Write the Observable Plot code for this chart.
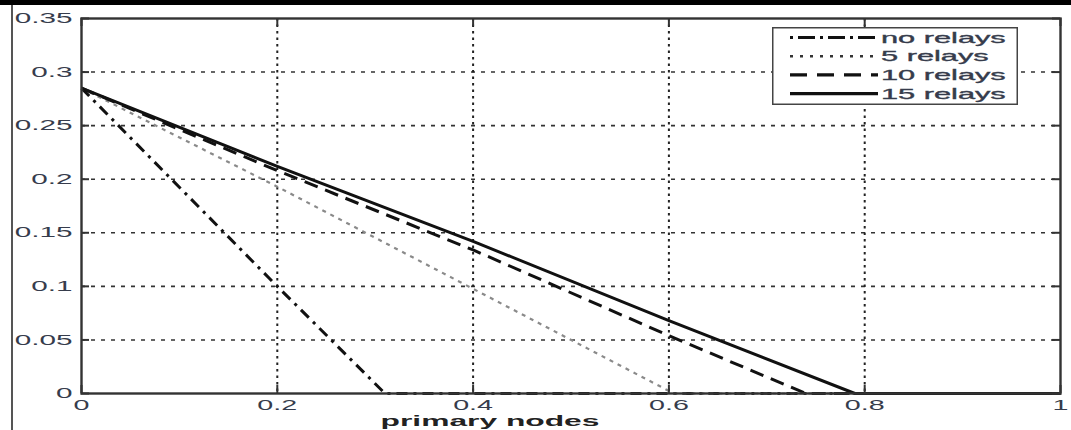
<!DOCTYPE html>
<html>
<head>
<meta charset="utf-8">
<script src="https://cdn.jsdelivr.net/npm/d3@7"></script>
<script src="https://cdn.jsdelivr.net/npm/@observablehq/plot@0.6"></script>
<style>
  html, body { margin: 0; padding: 0; background: #fff; overflow: hidden; }
  #wrap { position: relative; width: 1071px; height: 430px; font-family: "Liberation Sans", Arial, sans-serif; }
  #topbar { position: absolute; left: 0; top: 0; width: 1071px; height: 5px; background: #000; }
  #leftline { position: absolute; left: 11px; top: 5px; width: 2px; height: 425px; background: #555; }
  #chart { position: absolute; left: 0; top: 0; }
  #legend { position: absolute; left: 772px; top: 27px; }
</style>
</head>
<body>
<div id="wrap">
  <div id="chart"></div>
  <div id="topbar"></div>
  <div id="leftline"></div>
  <div id="legend"></div>
</div>
<script>
// ---- data ----
const series = ["no relays", "5 relays", "10 relays", "15 relays"];
const xNoRelays = [0, 0.2, 0.31, 1];
const yNoRelays = [0.285, 0.1, 0, 0];
const x5Relays = [0, 0.2, 0.605, 1];
const y5Relays = [0.285, 0.193, 0, 0];
const x10Relays = [0, 0.2, 0.4, 0.6, 0.74, 1];
const y10Relays = [0.285, 0.208, 0.134, 0.054, 0, 0];
const x15Relays = [0, 0.2, 0.4, 0.6, 0.79, 1];
const y15Relays = [0.285, 0.212, 0.142, 0.068, 0, 0];
const xTicks = [0, 0.2, 0.4, 0.6, 0.8, 1];
const yTicks = [0, 0.05, 0.1, 0.15, 0.2, 0.25, 0.3, 0.35];
const xLabel = "primary nodes";

// ---- styles ----
const seriesStyle = {
  "no relays": {stroke: "#111", dash: "11,6,3,6", width: 3},
  "5 relays": {stroke: "#8a8a8a", dash: "4,5", width: 2.2},
  "10 relays": {stroke: "#111", dash: "14,8", width: 3},
  "15 relays": {stroke: "#111", dash: null, width: 3}
};
const legendDash = {"no relays": "3,5,17,5", "5 relays": "3,7", "10 relays": "17,10", "15 relays": null};

const xs = [xNoRelays, x5Relays, x10Relays, x15Relays];
const ys = [yNoRelays, y5Relays, y10Relays, y15Relays];
const rows = series.flatMap((s, i) => xs[i].map((x, j) => ({series: s, x, y: ys[i][j]})));

const W = 1071, H = 430, mL = 81, mR = 11, mT = 18, mB = 37;
const plotW = W - mL - mR, plotH = H - mT - mB;
const tickLen = 8;
const labelColor = "#363c4c";
const SX = 2.05;

const lineMarks = series.map(s => Plot.line(rows.filter(d => d.series === s), {
  x: "x", y: "y",
  stroke: seriesStyle[s].stroke,
  strokeWidth: seriesStyle[s].width,
  strokeDasharray: seriesStyle[s].dash || undefined,
  strokeLinecap: "butt"
}));

const chart = Plot.plot({
  width: W, height: H,
  marginLeft: mL, marginRight: mR, marginTop: mT, marginBottom: mB,
  style: {fontFamily: "Liberation Sans, Arial, sans-serif", background: "transparent", overflow: "visible"},
  x: {domain: [0, 1]},
  y: {domain: [0, 0.35]},
  marks: [
    Plot.gridY(yTicks.slice(1, -1), {stroke: "#333", strokeOpacity: 1, strokeWidth: 1.6, strokeDasharray: "4,6"}),
    Plot.gridX(xTicks.slice(1, -1), {stroke: "#222", strokeOpacity: 1, strokeWidth: 2, strokeDasharray: "2.5,4"}),
    ...lineMarks,
    Plot.frame({stroke: "#333", strokeWidth: 2.4}),
    Plot.tickX(xTicks, {x: d => d, stroke: "#333", strokeWidth: 2, insetTop: plotH - tickLen}),
    Plot.tickX(xTicks, {x: d => d, stroke: "#333", strokeWidth: 2, insetBottom: plotH - tickLen}),
    Plot.tickY(yTicks, {y: d => d, stroke: "#333", strokeWidth: 2, insetRight: plotW - tickLen}),
    Plot.tickY(yTicks, {y: d => d, stroke: "#333", strokeWidth: 2, insetLeft: plotW - tickLen}),
    Plot.axisX({ticks: xTicks, tickSize: 0, tickPadding: 7, tickFormat: d => String(d), fontSize: 14, fill: labelColor, stroke: labelColor, strokeWidth: 0.35, label: null}),
    Plot.axisY({ticks: yTicks, tickSize: 0, tickPadding: 9, tickFormat: d => String(d), fontSize: 14.5, fill: labelColor, stroke: labelColor, strokeWidth: 0.35, label: null}),
    Plot.text([xLabel], {text: d => d, frameAnchor: "bottom", dx: -81, dy: 28, fontSize: 15.5, fontWeight: "bold", fill: "#222", lineAnchor: "middle"})
  ]
});

// horizontally stretch all text (the reference figure is widened)
chart.querySelectorAll("text").forEach(t => {
  let tr = t.getAttribute("transform") || "";
  const xa = t.getAttribute("x");
  if (xa && !/em$/.test(xa) && +xa !== 0) { tr += ` translate(${+xa},0)`; t.removeAttribute("x"); }
  t.setAttribute("transform", (tr + ` scale(${SX},1)`).trim());
});
document.getElementById("chart").appendChild(chart);

// ---- legend ----
const ns = "http://www.w3.org/2000/svg";
const lg = document.createElementNS(ns, "svg");
const LW = 246, LH = 78;
lg.setAttribute("width", LW); lg.setAttribute("height", LH);
const box = document.createElementNS(ns, "rect");
box.setAttribute("x", 0.75); box.setAttribute("y", 0.75);
box.setAttribute("width", LW - 1.5); box.setAttribute("height", LH - 1.5);
box.setAttribute("fill", "#fff"); box.setAttribute("stroke", "#444"); box.setAttribute("stroke-width", 1.5);
lg.appendChild(box);
series.forEach((s, i) => {
  const cy = 10.5 + i * 18.7;
  const ln = document.createElementNS(ns, "line");
  ln.setAttribute("x1", 18); ln.setAttribute("x2", 106);
  ln.setAttribute("y1", cy); ln.setAttribute("y2", cy);
  ln.setAttribute("stroke", s === "5 relays" ? "#333" : "#111");
  ln.setAttribute("stroke-width", s === "5 relays" ? 2.5 : 3.2);
  if (legendDash[s]) ln.setAttribute("stroke-dasharray", legendDash[s]);
  lg.appendChild(ln);
  const tx = document.createElementNS(ns, "text");
  tx.setAttribute("transform", `translate(109,${cy}) scale(${SX},1)`);
  tx.setAttribute("dy", "0.35em");
  tx.setAttribute("font-size", 15);
  tx.setAttribute("font-family", "Liberation Sans, Arial, sans-serif");
  tx.setAttribute("fill", labelColor);
  tx.setAttribute("stroke", labelColor);
  tx.setAttribute("stroke-width", 0.35);
  tx.textContent = s;
  lg.appendChild(tx);
});
document.getElementById("legend").appendChild(lg);
</script>
</body>
</html>
